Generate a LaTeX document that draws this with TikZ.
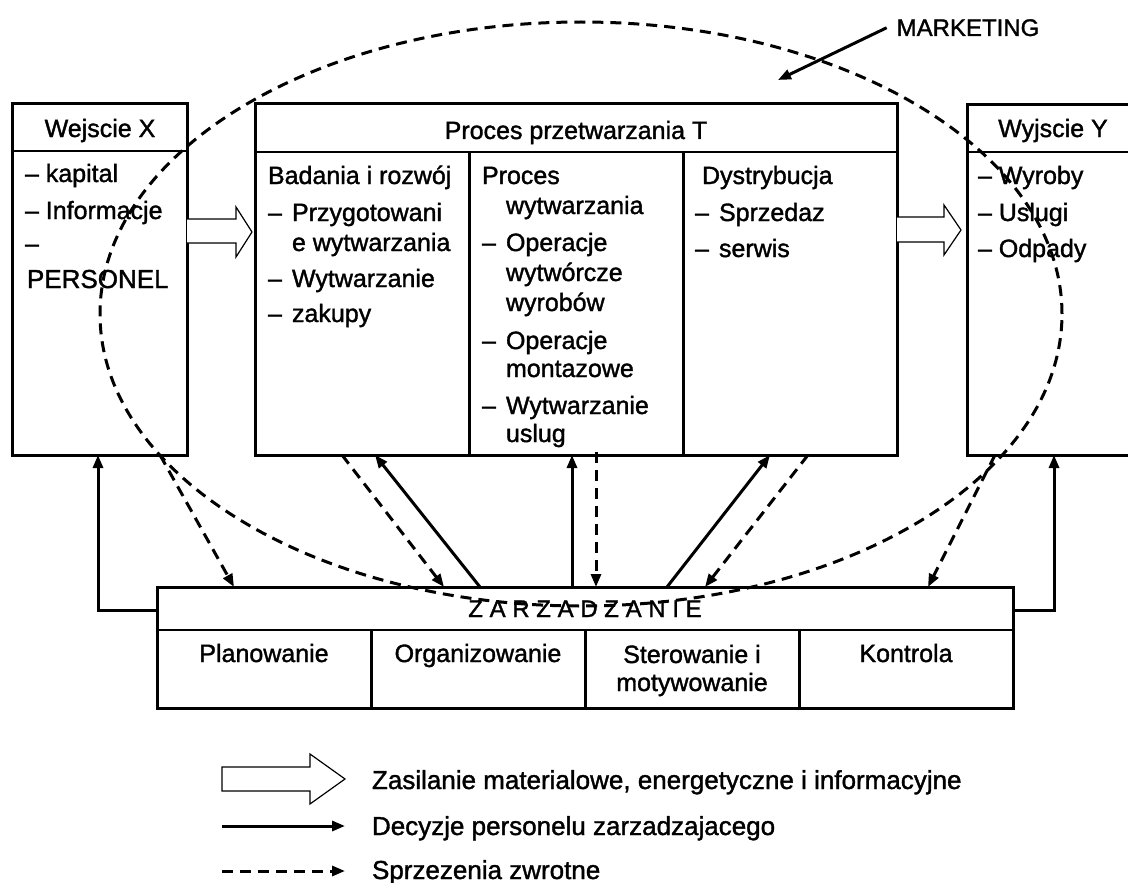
\documentclass[tikz,border=0pt]{standalone}
\usepackage{fontspec}
\setmainfont{Liberation Sans}[FakeBold=1.4]
\usetikzlibrary{arrows.meta}
\begin{document}
\begin{tikzpicture}[x=1pt,y=-1pt,
  txt/.style={inner sep=0pt, outer sep=0pt, font=\fontsize{25}{30}\selectfont, anchor=base west},
  ctxt/.style={txt, anchor=base},
  lgd/.style={txt, font=\fontsize{26}{30}\selectfont},
  box/.style={draw, line width=3pt, inner sep=0pt, outer sep=0pt, anchor=north west},
  sep/.style={line width=1.4pt},
  col/.style={line width=3pt},
  dec/.style={line width=3pt, -{Triangle[length=13pt,width=10pt]}},
  fb/.style={line width=3pt, dash pattern=on 11pt off 7pt},
  fba/.style={fb, -{Triangle[length=13pt,width=10pt]}},
  hollow/.style={draw, line width=1.2pt, fill=white}]

\useasboundingbox (0,0) rectangle (1128,883);

% ---------- boxes ----------
\node[box, minimum width=175pt, minimum height=351pt] (wx) at (12,104) {};
\node[box, minimum width=642pt, minimum height=351pt] (proc) at (255,104) {};
\node[inner sep=0pt, outer sep=0pt, minimum width=163pt, minimum height=350pt, anchor=north west] (wy) at (967,105) {};
\draw[line width=3pt] (wy.north east) -- (wy.north west) -- (wy.south west) -- (wy.south east);
\node[box, minimum width=856pt, minimum height=121pt] (zarz) at (157,587) {};

% header separators and column dividers
\draw[sep] (wx.west |- 0,151) -- (wx.east |- 0,151);
\draw[sep] (proc.west |- 0,152) -- (proc.east |- 0,152);
\draw[sep] (wy.west |- 0,152) -- (wy.east |- 0,152);
\draw[col] (469,152) -- (469,0 |- proc.south);
\draw[col] (683,152) -- (683,0 |- proc.south);
\draw[sep] (zarz.west |- 0,630) -- (zarz.east |- 0,630);
\draw[col] (371,630) -- (371,0 |- zarz.south);
\draw[col] (585,630) -- (585,0 |- zarz.south);
\draw[col] (799,630) -- (799,0 |- zarz.south);

% ---------- texts: Wejscie X ----------
\node[ctxt] (wxt) at (100,137) {Wejscie X};
\node[txt] (x1) at (25,182) {– kapital};
\node[txt] (x2) at (25,219) {– Informacje};
\node[txt] (x3) at (25,252) {–};
\node[txt, font=\fontsize{26}{30}\selectfont] (x4) at (27,288) {PERSONEL};

% ---------- Proces przetwarzania T ----------
\node[ctxt] (pt) at (576,139) {Proces przetwarzania T};
\node[txt] (b0) at (268,184) {Badania i rozwój};
\node[txt] (b1d) at (268,221) {–};
\node[txt] (b1) at (292,221) {Przygotowani};
\node[txt] (b2) at (292,251) {e wytwarzania};
\node[txt] (b3d) at (268,287) {–};
\node[txt] (b3) at (292,287) {Wytwarzanie};
\node[txt] (b4d) at (268,322) {–};
\node[txt] (b4) at (292,322) {zakupy};

\node[txt] (c0) at (482,184) {Proces};
\node[txt] (c1) at (506,214) {wytwarzania};
\node[txt] (c2d) at (482,251) {–};
\node[txt] (c2) at (506,251) {Operacje};
\node[txt] (c3) at (506,281) {wytwórcze};
\node[txt] (c4) at (506,311) {wyrobów};
\node[txt] (c5d) at (482,349) {–};
\node[txt] (c5) at (506,349) {Operacje};
\node[txt] (c6) at (506,377) {montazowe};
\node[txt] (c7d) at (482,414) {–};
\node[txt] (c7) at (506,414) {Wytwarzanie};
\node[txt] (c8) at (506,442) {uslug};

\node[txt] (d0) at (702,184) {Dystrybucja};
\node[txt] (d1d) at (695,221) {–};
\node[txt] (d1) at (719,221) {Sprzedaz};
\node[txt] (d2d) at (695,257) {–};
\node[txt] (d2) at (719,257) {serwis};

% ---------- Wyjscie Y ----------
\node[ctxt] (yt) at (1053,137) {Wyjscie Y};
\node[txt] (y1) at (978,184) {– Wyroby};
\node[txt] (y2) at (978,221) {– Uslugi};
\node[txt] (y3) at (978,257) {– Odpady};

% ---------- Zarzadzanie ----------
\node[ctxt, font=\fontsize{24}{28}\selectfont] (zt) at (585,617) {Z A R Z A D Z A N I E};
\node[ctxt] (z1) at (264,662) {Planowanie};
\node[ctxt] (z2) at (478,662) {Organizowanie};
\node[ctxt] (z3) at (692,663) {Sterowanie i};
\node[ctxt] (z3b) at (692,691) {motywowanie};
\node[ctxt] (z4) at (906,662) {Kontrola};

% ---------- hollow flow arrows ----------
\draw[hollow] (wx.east |- 0,219) -- (236,219) -- (236,207) -- (252,232) -- (236,257) -- (236,243) -- (wx.east |- 0,243);
\draw[hollow] (proc.east |- 0,217) -- (944,217) -- (944,205) -- (961,230) -- (944,255) -- (944,242) -- (proc.east |- 0,242);

% ---------- decisions (solid) ----------
\draw[dec] (zarz.west |- 0,610) -| (98,0 |- wx.south);
\draw[dec] (zarz.east |- 0,610) -| (1054,0 |- wy.south);
\draw[dec] (480,0 |- zarz.north) -- (375,0 |- proc.south);
\draw[dec] (572,0 |- zarz.north) -- (572,0 |- proc.south);
\draw[dec] (667,0 |- zarz.north) -- (770,0 |- proc.south);

% ---------- feedback (dashed) ----------
\draw[fba] (160,0 |- wx.south) -- (234,0 |- zarz.north);
\draw[fba] (342,0 |- proc.south) -- (444,0 |- zarz.north);
\draw[fba] (596,452) -- (596,0 |- zarz.north);
\draw[fba] (808,0 |- proc.south) -- (705,0 |- zarz.north);
\draw[fba] (995,0 |- wy.south) -- (928,0 |- zarz.north);

% ---------- marketing ----------
\node[ctxt, font=\fontsize{24}{28}\selectfont] (mkt) at (968,36) {MARKETING};
\coordinate (mktend) at (778,80);
\draw[dec] ([xshift=-10pt]mkt.west) -- (mktend);

% ---------- legend ----------
\coordinate (la1) at (222,767);
\draw[hollow] (la1) -- (310,767) -- (310,754) -- (345,779) -- (310,804) -- (310,791) -- (222,791) -- cycle;
\node[lgd] (l1) at (372,789) {Zasilanie materialowe, energetyczne i informacyjne};
\coordinate (la2) at (222,826);
\coordinate (lb2) at (345,826);
\draw[dec] (la2) -- (lb2);
\node[lgd] (l2) at (372,835) {Decyzje personelu zarzadzajacego};
\coordinate (la3) at (222,871);
\coordinate (lb3) at (345,871);
\draw[fba] (la3) -- (lb3);
\node[lgd] (l3) at (372,879) {Sprzezenia zwrotne};

% ---------- marketing ellipse ----------
\draw[fb] (581,314) ellipse [x radius=481pt, y radius=292pt];
\end{tikzpicture}
\end{document}
